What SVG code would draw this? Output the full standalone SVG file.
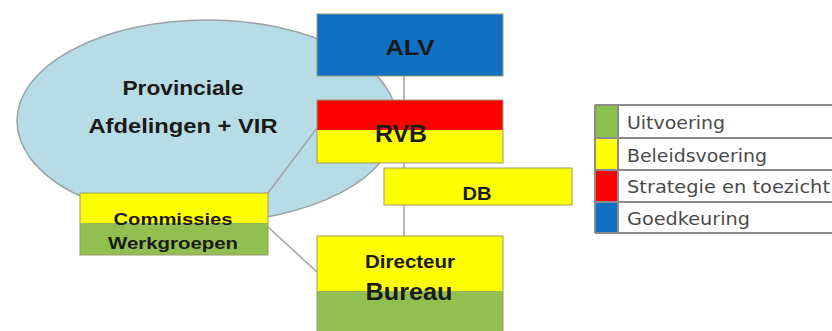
<svg xmlns="http://www.w3.org/2000/svg" width="832" height="331" viewBox="0 0 832 331">
<style>
.b{font-family:"Liberation Sans",Arial,sans-serif;font-weight:bold;fill:#1a1a1a;text-anchor:middle}
.lg{font-family:"DejaVu Sans",Verdana,sans-serif;font-size:18px;fill:#4a4a4a}
.box{stroke:#9a9a70;stroke-width:1}
.c{stroke:#a3a3a3;stroke-width:1.5;fill:none}
.ll{stroke:#8c8c8c;stroke-width:2}
</style>
<rect width="832" height="331" fill="#ffffff"/>
<g id="provinciale">
<ellipse cx="207" cy="121" rx="190" ry="101" fill="#b7dce6" stroke="#9aa3a6" stroke-width="1.5"/>
<text class="b" x="183" y="95" font-size="21" textLength="121" lengthAdjust="spacingAndGlyphs">Provinciale</text>
<text class="b" x="183" y="133" font-size="21" textLength="189" lengthAdjust="spacingAndGlyphs">Afdelingen  + VIR</text>
</g>
<g id="connectors">
<line class="c" x1="404" y1="76" x2="404" y2="100"/>
<line class="c" x1="404" y1="163" x2="404" y2="168"/>
<line class="c" x1="404" y1="205" x2="404" y2="236"/>
<line class="c" x1="268" y1="193" x2="317" y2="128"/>
<line class="c" x1="268" y1="227" x2="317" y2="272"/>
</g>
<g id="alv">
<rect class="box" x="317" y="14" width="186" height="62" fill="#1070c4" stroke="#3a6a9a"/>
<text class="b" x="410" y="55" font-size="22" textLength="49" lengthAdjust="spacingAndGlyphs">ALV</text>
</g>
<g id="rvb">
<rect x="317" y="100" width="186" height="30" fill="#ff0000"/>
<rect x="317" y="130" width="186" height="33" fill="#ffff00"/>
<rect class="box" x="317" y="100" width="186" height="63" fill="none"/>
<text class="b" x="401" y="142" font-size="23" textLength="52" lengthAdjust="spacingAndGlyphs">RVB</text>
</g>
<g id="db">
<rect class="box" x="384" y="168" width="188" height="37" fill="#ffff00"/>
<text class="b" x="477" y="200" font-size="19" textLength="29" lengthAdjust="spacingAndGlyphs">DB</text>
</g>
<g id="directeur">
<rect x="317" y="236" width="186" height="55" fill="#ffff00"/>
<rect x="317" y="291" width="186" height="42" fill="#92c050"/>
<rect class="box" x="317" y="236" width="186" height="97" fill="none"/>
<text class="b" x="410" y="268" font-size="18" textLength="90" lengthAdjust="spacingAndGlyphs">Directeur</text>
<text class="b" x="409" y="300" font-size="24" textLength="87" lengthAdjust="spacingAndGlyphs">Bureau</text>
</g>
<g id="commissies">
<rect x="80" y="193" width="188" height="30" fill="#ffff00"/>
<rect x="80" y="223" width="188" height="32" fill="#92c050"/>
<rect class="box" x="80" y="193" width="188" height="62" fill="none"/>
<text class="b" x="173" y="225" font-size="17" textLength="119" lengthAdjust="spacingAndGlyphs" fill="#1f2a10">Commissies</text>
<text class="b" x="173" y="249" font-size="17" textLength="130" lengthAdjust="spacingAndGlyphs" fill="#1f2a10">Werkgroepen</text>
</g>
<g id="legend">
<rect x="595" y="105" width="23" height="33" fill="#8cc04e"/>
<rect x="595" y="138" width="23" height="32" fill="#ffff00"/>
<rect x="595" y="170" width="23" height="32" fill="#ff0000"/>
<rect x="595" y="202" width="23" height="31" fill="#1070c4"/>
<line class="ll" x1="595" y1="105" x2="832" y2="105"/>
<line class="ll" x1="595" y1="138" x2="832" y2="138"/>
<line class="ll" x1="595" y1="170" x2="832" y2="170"/>
<line class="ll" x1="595" y1="202" x2="832" y2="202"/>
<line class="ll" x1="595" y1="233" x2="832" y2="233"/>
<line class="ll" x1="595" y1="105" x2="595" y2="233"/>
<line class="ll" x1="618" y1="105" x2="618" y2="233"/>
<text class="lg" x="627" y="129" textLength="98" lengthAdjust="spacingAndGlyphs">Uitvoering</text>
<text class="lg" x="627" y="162" textLength="140" lengthAdjust="spacingAndGlyphs">Beleidsvoering</text>
<text class="lg" x="627" y="193" textLength="203" lengthAdjust="spacingAndGlyphs">Strategie en toezicht</text>
<text class="lg" x="627" y="225" textLength="123" lengthAdjust="spacingAndGlyphs">Goedkeuring</text>
</g>
</svg>
